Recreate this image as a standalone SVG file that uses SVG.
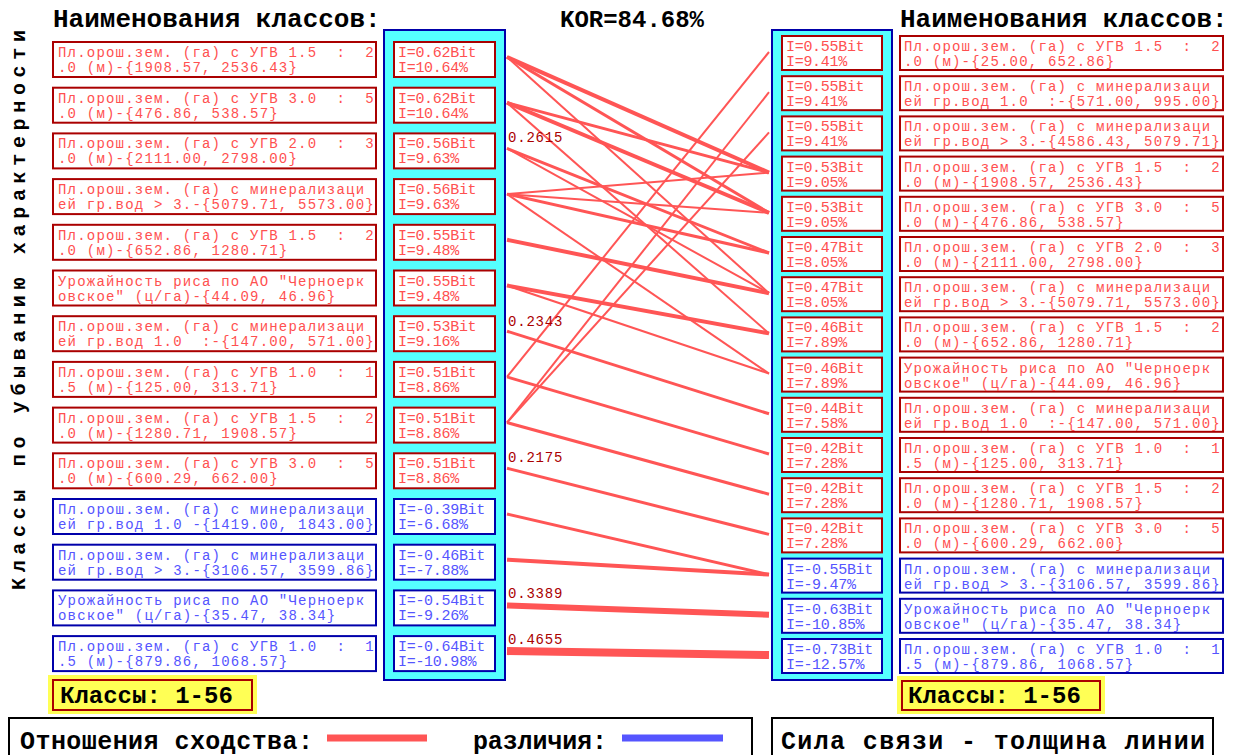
<svg xmlns="http://www.w3.org/2000/svg" width="1235" height="755" viewBox="0 0 1235 755">
<style>
text{font-family:"Liberation Mono","DejaVu Sans Mono",monospace;white-space:pre}
.hd{font-size:26px;font-weight:bold;fill:#000}
.nm text{font-size:14px;letter-spacing:1.2px}
.iv text{font-size:15px;letter-spacing:-0.3px}
.red rect{fill:#fff;stroke:#aa0000;stroke-width:2}
.red text{fill:#ff5050}
.blu rect{fill:#fff;stroke:#0000aa;stroke-width:2}
.blu text{fill:#5555ff}
.panel{fill:#55ffff;stroke:#0000aa;stroke-width:2}
.cn line{stroke:#ff5555;stroke-linecap:butt}
.lbl{font-size:14px;letter-spacing:0.8px;fill:#aa0000}
.big{font-size:24px;font-weight:bold;fill:#000}
</style>
<rect width="1235" height="755" fill="#fff"/>
<text class="hd" x="53" y="27">Наименования классов:</text>
<text class="hd" x="900" y="27">Наименования классов:</text>
<text class="hd" x="560" y="27" style="font-size:24px">KOR=84.68%</text>
<text class="hd" transform="translate(25,590) rotate(-90)" x="0" y="0" style="font-size:20px" textLength="560" lengthAdjust="spacing">Классы по убыванию характерности</text>
<g id="panelL"><rect class="panel" x="384" y="30" width="121" height="650"/></g>
<g id="panelR"><rect class="panel" x="772" y="30" width="120" height="650"/></g>
<g id="ln0" class="nm red" transform="translate(53,42)"><rect width="323" height="35"/><text x="5" y="15">Пл.орош.зем. (га) с УГВ 1.5  :  2</text><text x="5" y="30">.0 (м)-{1908.57, 2536.43}</text></g>
<g id="ln1" class="nm red" transform="translate(53,87.7)"><rect width="323" height="35"/><text x="5" y="15">Пл.орош.зем. (га) с УГВ 3.0  :  5</text><text x="5" y="30">.0 (м)-{476.86, 538.57}</text></g>
<g id="ln2" class="nm red" transform="translate(53,133.4)"><rect width="323" height="35"/><text x="5" y="15">Пл.орош.зем. (га) с УГВ 2.0  :  3</text><text x="5" y="30">.0 (м)-{2111.00, 2798.00}</text></g>
<g id="ln3" class="nm red" transform="translate(53,179.1)"><rect width="323" height="35"/><text x="5" y="15">Пл.орош.зем. (га) с минерализаци</text><text x="5" y="30">ей гр.вод &gt; 3.-{5079.71, 5573.00}</text></g>
<g id="ln4" class="nm red" transform="translate(53,224.8)"><rect width="323" height="35"/><text x="5" y="15">Пл.орош.зем. (га) с УГВ 1.5  :  2</text><text x="5" y="30">.0 (м)-{652.86, 1280.71}</text></g>
<g id="ln5" class="nm red" transform="translate(53,270.5)"><rect width="323" height="35"/><text x="5" y="15">Урожайность риса по АО "Черноерк</text><text x="5" y="30">овское" (ц/га)-{44.09, 46.96}</text></g>
<g id="ln6" class="nm red" transform="translate(53,316.2)"><rect width="323" height="35"/><text x="5" y="15">Пл.орош.зем. (га) с минерализаци</text><text x="5" y="30">ей гр.вод 1.0  :-{147.00, 571.00}</text></g>
<g id="ln7" class="nm red" transform="translate(53,361.9)"><rect width="323" height="35"/><text x="5" y="15">Пл.орош.зем. (га) с УГВ 1.0  :  1</text><text x="5" y="30">.5 (м)-{125.00, 313.71}</text></g>
<g id="ln8" class="nm red" transform="translate(53,407.6)"><rect width="323" height="35"/><text x="5" y="15">Пл.орош.зем. (га) с УГВ 1.5  :  2</text><text x="5" y="30">.0 (м)-{1280.71, 1908.57}</text></g>
<g id="ln9" class="nm red" transform="translate(53,453.3)"><rect width="323" height="35"/><text x="5" y="15">Пл.орош.зем. (га) с УГВ 3.0  :  5</text><text x="5" y="30">.0 (м)-{600.29, 662.00}</text></g>
<g id="ln10" class="nm blu" transform="translate(53,499)"><rect width="323" height="35"/><text x="5" y="15">Пл.орош.зем. (га) с минерализаци</text><text x="5" y="30">ей гр.вод 1.0 -{1419.00, 1843.00}</text></g>
<g id="ln11" class="nm blu" transform="translate(53,544.7)"><rect width="323" height="35"/><text x="5" y="15">Пл.орош.зем. (га) с минерализаци</text><text x="5" y="30">ей гр.вод &gt; 3.-{3106.57, 3599.86}</text></g>
<g id="ln12" class="nm blu" transform="translate(53,590.4)"><rect width="323" height="35"/><text x="5" y="15">Урожайность риса по АО "Черноерк</text><text x="5" y="30">овское" (ц/га)-{35.47, 38.34}</text></g>
<g id="ln13" class="nm blu" transform="translate(53,636.1)"><rect width="323" height="35"/><text x="5" y="15">Пл.орош.зем. (га) с УГВ 1.0  :  1</text><text x="5" y="30">.5 (м)-{879.86, 1068.57}</text></g>
<g id="li0" class="iv red" transform="translate(394,42)"><rect width="101" height="35"/><text x="4" y="15">I=0.62Bit</text><text x="4" y="30">I=10.64%</text></g>
<g id="li1" class="iv red" transform="translate(394,87.7)"><rect width="101" height="35"/><text x="4" y="15">I=0.62Bit</text><text x="4" y="30">I=10.64%</text></g>
<g id="li2" class="iv red" transform="translate(394,133.4)"><rect width="101" height="35"/><text x="4" y="15">I=0.56Bit</text><text x="4" y="30">I=9.63%</text></g>
<g id="li3" class="iv red" transform="translate(394,179.1)"><rect width="101" height="35"/><text x="4" y="15">I=0.56Bit</text><text x="4" y="30">I=9.63%</text></g>
<g id="li4" class="iv red" transform="translate(394,224.8)"><rect width="101" height="35"/><text x="4" y="15">I=0.55Bit</text><text x="4" y="30">I=9.48%</text></g>
<g id="li5" class="iv red" transform="translate(394,270.5)"><rect width="101" height="35"/><text x="4" y="15">I=0.55Bit</text><text x="4" y="30">I=9.48%</text></g>
<g id="li6" class="iv red" transform="translate(394,316.2)"><rect width="101" height="35"/><text x="4" y="15">I=0.53Bit</text><text x="4" y="30">I=9.16%</text></g>
<g id="li7" class="iv red" transform="translate(394,361.9)"><rect width="101" height="35"/><text x="4" y="15">I=0.51Bit</text><text x="4" y="30">I=8.86%</text></g>
<g id="li8" class="iv red" transform="translate(394,407.6)"><rect width="101" height="35"/><text x="4" y="15">I=0.51Bit</text><text x="4" y="30">I=8.86%</text></g>
<g id="li9" class="iv red" transform="translate(394,453.3)"><rect width="101" height="35"/><text x="4" y="15">I=0.51Bit</text><text x="4" y="30">I=8.86%</text></g>
<g id="li10" class="iv blu" transform="translate(394,499)"><rect width="101" height="35"/><text x="4" y="15">I=-0.39Bit</text><text x="4" y="30">I=-6.68%</text></g>
<g id="li11" class="iv blu" transform="translate(394,544.7)"><rect width="101" height="35"/><text x="4" y="15">I=-0.46Bit</text><text x="4" y="30">I=-7.88%</text></g>
<g id="li12" class="iv blu" transform="translate(394,590.4)"><rect width="101" height="35"/><text x="4" y="15">I=-0.54Bit</text><text x="4" y="30">I=-9.26%</text></g>
<g id="li13" class="iv blu" transform="translate(394,636.1)"><rect width="101" height="35"/><text x="4" y="15">I=-0.64Bit</text><text x="4" y="30">I=-10.98%</text></g>
<g id="ri0" class="iv red" transform="translate(782,36)"><rect width="100" height="34"/><text x="4" y="15">I=0.55Bit</text><text x="4" y="30">I=9.41%</text></g>
<g id="ri1" class="iv red" transform="translate(782,76.2)"><rect width="100" height="34"/><text x="4" y="15">I=0.55Bit</text><text x="4" y="30">I=9.41%</text></g>
<g id="ri2" class="iv red" transform="translate(782,116.4)"><rect width="100" height="34"/><text x="4" y="15">I=0.55Bit</text><text x="4" y="30">I=9.41%</text></g>
<g id="ri3" class="iv red" transform="translate(782,156.6)"><rect width="100" height="34"/><text x="4" y="15">I=0.53Bit</text><text x="4" y="30">I=9.05%</text></g>
<g id="ri4" class="iv red" transform="translate(782,196.8)"><rect width="100" height="34"/><text x="4" y="15">I=0.53Bit</text><text x="4" y="30">I=9.05%</text></g>
<g id="ri5" class="iv red" transform="translate(782,237)"><rect width="100" height="34"/><text x="4" y="15">I=0.47Bit</text><text x="4" y="30">I=8.05%</text></g>
<g id="ri6" class="iv red" transform="translate(782,277.2)"><rect width="100" height="34"/><text x="4" y="15">I=0.47Bit</text><text x="4" y="30">I=8.05%</text></g>
<g id="ri7" class="iv red" transform="translate(782,317.4)"><rect width="100" height="34"/><text x="4" y="15">I=0.46Bit</text><text x="4" y="30">I=7.89%</text></g>
<g id="ri8" class="iv red" transform="translate(782,357.6)"><rect width="100" height="34"/><text x="4" y="15">I=0.46Bit</text><text x="4" y="30">I=7.89%</text></g>
<g id="ri9" class="iv red" transform="translate(782,397.8)"><rect width="100" height="34"/><text x="4" y="15">I=0.44Bit</text><text x="4" y="30">I=7.58%</text></g>
<g id="ri10" class="iv red" transform="translate(782,438)"><rect width="100" height="34"/><text x="4" y="15">I=0.42Bit</text><text x="4" y="30">I=7.28%</text></g>
<g id="ri11" class="iv red" transform="translate(782,478.2)"><rect width="100" height="34"/><text x="4" y="15">I=0.42Bit</text><text x="4" y="30">I=7.28%</text></g>
<g id="ri12" class="iv red" transform="translate(782,518.4)"><rect width="100" height="34"/><text x="4" y="15">I=0.42Bit</text><text x="4" y="30">I=7.28%</text></g>
<g id="ri13" class="iv blu" transform="translate(782,558.6)"><rect width="100" height="34"/><text x="4" y="15">I=-0.55Bit</text><text x="4" y="30">I=-9.47%</text></g>
<g id="ri14" class="iv blu" transform="translate(782,598.8)"><rect width="100" height="34"/><text x="4" y="15">I=-0.63Bit</text><text x="4" y="30">I=-10.85%</text></g>
<g id="ri15" class="iv blu" transform="translate(782,639)"><rect width="100" height="34"/><text x="4" y="15">I=-0.73Bit</text><text x="4" y="30">I=-12.57%</text></g>
<g id="rn0" class="nm red" transform="translate(900,36)"><rect width="323" height="34"/><text x="4" y="15">Пл.орош.зем. (га) с УГВ 1.5  :  2</text><text x="4" y="30">.0 (м)-{25.00, 652.86}</text></g>
<g id="rn1" class="nm red" transform="translate(900,76.2)"><rect width="323" height="34"/><text x="4" y="15">Пл.орош.зем. (га) с минерализаци</text><text x="4" y="30">ей гр.вод 1.0  :-{571.00, 995.00}</text></g>
<g id="rn2" class="nm red" transform="translate(900,116.4)"><rect width="323" height="34"/><text x="4" y="15">Пл.орош.зем. (га) с минерализаци</text><text x="4" y="30">ей гр.вод &gt; 3.-{4586.43, 5079.71}</text></g>
<g id="rn3" class="nm red" transform="translate(900,156.6)"><rect width="323" height="34"/><text x="4" y="15">Пл.орош.зем. (га) с УГВ 1.5  :  2</text><text x="4" y="30">.0 (м)-{1908.57, 2536.43}</text></g>
<g id="rn4" class="nm red" transform="translate(900,196.8)"><rect width="323" height="34"/><text x="4" y="15">Пл.орош.зем. (га) с УГВ 3.0  :  5</text><text x="4" y="30">.0 (м)-{476.86, 538.57}</text></g>
<g id="rn5" class="nm red" transform="translate(900,237)"><rect width="323" height="34"/><text x="4" y="15">Пл.орош.зем. (га) с УГВ 2.0  :  3</text><text x="4" y="30">.0 (м)-{2111.00, 2798.00}</text></g>
<g id="rn6" class="nm red" transform="translate(900,277.2)"><rect width="323" height="34"/><text x="4" y="15">Пл.орош.зем. (га) с минерализаци</text><text x="4" y="30">ей гр.вод &gt; 3.-{5079.71, 5573.00}</text></g>
<g id="rn7" class="nm red" transform="translate(900,317.4)"><rect width="323" height="34"/><text x="4" y="15">Пл.орош.зем. (га) с УГВ 1.5  :  2</text><text x="4" y="30">.0 (м)-{652.86, 1280.71}</text></g>
<g id="rn8" class="nm red" transform="translate(900,357.6)"><rect width="323" height="34"/><text x="4" y="15">Урожайность риса по АО "Черноерк</text><text x="4" y="30">овское" (ц/га)-{44.09, 46.96}</text></g>
<g id="rn9" class="nm red" transform="translate(900,397.8)"><rect width="323" height="34"/><text x="4" y="15">Пл.орош.зем. (га) с минерализаци</text><text x="4" y="30">ей гр.вод 1.0  :-{147.00, 571.00}</text></g>
<g id="rn10" class="nm red" transform="translate(900,438)"><rect width="323" height="34"/><text x="4" y="15">Пл.орош.зем. (га) с УГВ 1.0  :  1</text><text x="4" y="30">.5 (м)-{125.00, 313.71}</text></g>
<g id="rn11" class="nm red" transform="translate(900,478.2)"><rect width="323" height="34"/><text x="4" y="15">Пл.орош.зем. (га) с УГВ 1.5  :  2</text><text x="4" y="30">.0 (м)-{1280.71, 1908.57}</text></g>
<g id="rn12" class="nm red" transform="translate(900,518.4)"><rect width="323" height="34"/><text x="4" y="15">Пл.орош.зем. (га) с УГВ 3.0  :  5</text><text x="4" y="30">.0 (м)-{600.29, 662.00}</text></g>
<g id="rn13" class="nm blu" transform="translate(900,558.6)"><rect width="323" height="34"/><text x="4" y="15">Пл.орош.зем. (га) с минерализаци</text><text x="4" y="30">ей гр.вод &gt; 3.-{3106.57, 3599.86}</text></g>
<g id="rn14" class="nm blu" transform="translate(900,598.8)"><rect width="323" height="34"/><text x="4" y="15">Урожайность риса по АО "Черноерк</text><text x="4" y="30">овское" (ц/га)-{35.47, 38.34}</text></g>
<g id="rn15" class="nm blu" transform="translate(900,639)"><rect width="323" height="34"/><text x="4" y="15">Пл.орош.зем. (га) с УГВ 1.0  :  1</text><text x="4" y="30">.5 (м)-{879.86, 1068.57}</text></g>
<g id="connectors" class="cn">
<line x1="507" y1="57" x2="769" y2="172.6" stroke-width="4"/>
<line x1="507" y1="57" x2="769" y2="212.8" stroke-width="3"/>
<line x1="507" y1="57" x2="769" y2="293.2" stroke-width="2"/>
<line x1="507" y1="102.7" x2="769" y2="172.6" stroke-width="3"/>
<line x1="507" y1="102.7" x2="769" y2="212.8" stroke-width="4"/>
<line x1="507" y1="102.7" x2="769" y2="333.4" stroke-width="2"/>
<line x1="507" y1="148.4" x2="769" y2="253" stroke-width="3"/>
<line x1="507" y1="148.4" x2="769" y2="293.2" stroke-width="2"/>
<line x1="507" y1="194.1" x2="769" y2="172.6" stroke-width="2"/>
<line x1="507" y1="194.1" x2="769" y2="212.8" stroke-width="2"/>
<line x1="507" y1="194.1" x2="769" y2="253" stroke-width="3"/>
<line x1="507" y1="194.1" x2="769" y2="373.6" stroke-width="2"/>
<line x1="507" y1="239.8" x2="769" y2="293.2" stroke-width="4"/>
<line x1="507" y1="285.5" x2="769" y2="333.4" stroke-width="4"/>
<line x1="507" y1="285.5" x2="769" y2="373.6" stroke-width="2"/>
<line x1="507" y1="331.2" x2="769" y2="413.8" stroke-width="3"/>
<line x1="507" y1="376.9" x2="769" y2="454" stroke-width="3"/>
<line x1="507" y1="376.9" x2="769" y2="52" stroke-width="2"/>
<line x1="507" y1="422.6" x2="769" y2="494.2" stroke-width="3"/>
<line x1="507" y1="422.6" x2="769" y2="92.2" stroke-width="2"/>
<line x1="507" y1="422.6" x2="769" y2="132.4" stroke-width="2"/>
<line x1="507" y1="468.3" x2="769" y2="534.4" stroke-width="3"/>
<line x1="507" y1="514" x2="769" y2="574.6" stroke-width="3"/>
<line x1="507" y1="559.7" x2="769" y2="574.6" stroke-width="4"/>
<line x1="507" y1="605.4" x2="769" y2="614.8" stroke-width="6"/>
<line x1="507" y1="651.1" x2="769" y2="655" stroke-width="8"/>
</g>
<g id="weights">
<text class="lbl" x="508" y="142">0.2615</text>
<text class="lbl" x="508" y="326">0.2343</text>
<text class="lbl" x="508" y="462">0.2175</text>
<text class="lbl" x="508" y="598">0.3389</text>
<text class="lbl" x="508" y="644">0.4655</text>
</g>
<g id="classesL"><rect x="48" y="675" width="209" height="39" fill="#ffff55"/><rect x="53" y="680" width="199" height="30" fill="none" stroke="#aa0000" stroke-width="2"/><text class="big" x="60" y="703">Классы: 1-56</text></g>
<g id="classesR"><rect x="897" y="676" width="208" height="38" fill="#ffff55"/><rect x="902" y="681" width="198" height="29" fill="none" stroke="#aa0000" stroke-width="2"/><text class="big" x="908" y="703">Классы: 1-56</text></g>
<g id="legendL"><rect x="9" y="718" width="743" height="40" fill="#fff" stroke="#000" stroke-width="2"/><text class="big" x="20" y="749" style="font-size:25px" textLength="293" lengthAdjust="spacing">Отношения сходства:</text><line x1="327" y1="738" x2="427" y2="738" stroke="#ff5555" stroke-width="7"/><text class="big" x="473" y="749" style="font-size:25px" textLength="134" lengthAdjust="spacing">различия:</text><line x1="622" y1="738" x2="723" y2="738" stroke="#5555ff" stroke-width="7"/></g>
<g id="legendR"><rect x="772" y="718" width="441" height="40" fill="#fff" stroke="#000" stroke-width="2"/><text class="big" x="781" y="749" style="font-size:25px" textLength="424" lengthAdjust="spacing">Сила связи - толщина линии</text></g>
</svg>
